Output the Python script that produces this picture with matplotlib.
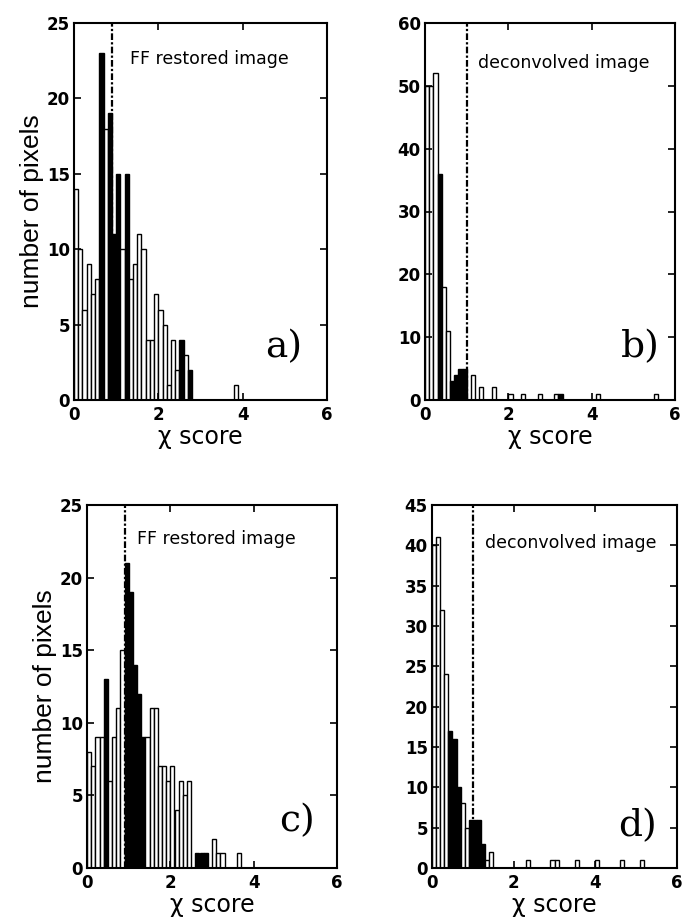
import matplotlib
matplotlib.use("Agg")
import matplotlib.pyplot as plt
import numpy as np

# counts per 0.1-wide chi-score bin, starting at 0
COUNTS_A = [14, 10, 6, 9, 7, 8, 23, 18, 19, 11,
            15, 10, 15, 8, 9, 11, 10, 4, 4, 7,
            6, 5, 1, 4, 2, 4, 3, 2, 0, 0,
            0, 0, 0, 0, 0, 0, 0, 0, 1]
COUNTS_B = [50, 50, 52, 36, 18, 11, 3, 4, 5, 5,
            0, 4, 0, 2, 0, 0, 2, 0, 0, 0,
            1, 0, 0, 1, 0, 0, 0, 1, 0, 0,
            0, 1, 1, 0, 0, 0, 0, 0, 0, 0,
            0, 1, 0, 0, 0, 0, 0, 0, 0, 0,
            0, 0, 0, 0, 0, 1]
COUNTS_C = [8, 7, 9, 9, 13, 6, 9, 11, 15, 21,
            19, 14, 12, 9, 9, 11, 11, 7, 7, 6,
            7, 4, 6, 5, 6, 0, 1, 1, 1, 0,
            2, 1, 1, 0, 0, 0, 1]
COUNTS_D = [40, 41, 32, 24, 17, 16, 10, 8, 5, 6,
            6, 6, 3, 1, 2, 0, 0, 0, 0, 0,
            0, 0, 0, 1, 0, 0, 0, 0, 0, 1,
            1, 0, 0, 0, 0, 1, 0, 0, 0, 0,
            1, 0, 0, 0, 0, 0, 1, 0, 0, 0,
            0, 1]

# bins that print as solid black in the scan
DARK_A = [6, 8, 9, 10, 12, 25, 27]
DARK_B = [3, 6, 7, 8, 9, 32]
DARK_C = [4, 9, 10, 11, 12, 13, 26, 27, 28]
DARK_D = [4, 5, 6, 9, 10, 11, 12]

CUTS = [0.9, 1.0, 0.9, 1.0]          # dash-dot reference line
TITLES = ["FF restored image", "deconvolved image",
          "FF restored image", "deconvolved image"]
TAGS = ["a)", "b)", "c)", "d)"]
YMAX = [25, 60, 25, 45]
YSTEP = [5, 10, 5, 5]
XTICKS = [0, 2, 4, 6]
BIN_W = 0.1

W, H = 683, 923
fig = plt.figure(figsize=(W / 100, H / 100), dpi=100)

# axes boxes in pixels: left, top, right, bottom
boxes = [(74, 23, 327, 400), (425, 23, 675, 400),
         (87, 505, 337, 868), (432, 505, 677, 868)]
text_pos = [(0.22, 0.905), (0.21, 0.895), (0.20, 0.905), (0.215, 0.895)]
tag_pos = [(0.83, 0.14), (0.86, 0.14), (0.84, 0.13), (0.84, 0.115)]

counts_all = [COUNTS_A, COUNTS_B, COUNTS_C, COUNTS_D]
dark_all = [DARK_A, DARK_B, DARK_C, DARK_D]

for i in range(4):
    l, t, r, b = boxes[i]
    ax = fig.add_axes([l / W, 1 - b / H, (r - l) / W, (b - t) / H])
    counts = np.array(counts_all[i])
    left = np.arange(len(counts)) * BIN_W
    keep = counts > 0
    faces = ["black" if k in dark_all[i] else "white" for k in range(len(counts))]
    ax.bar(left[keep], counts[keep], width=BIN_W, align="edge",
           color=np.array(faces)[keep], edgecolor="black", linewidth=1.0)
    ax.axvline(CUTS[i], color="black", linewidth=1.6, linestyle=(0, (3, 1, 1, 1)))

    ax.set_xlim(0, 6)
    ax.set_ylim(0, YMAX[i])
    ax.set_xticks(XTICKS)
    ax.set_yticks(np.arange(0, YMAX[i] + 1, YSTEP[i]))
    ax.tick_params(direction="in", top=True, right=True, length=5, width=1.2,
                   labelsize=12, pad=3)
    ax.tick_params(axis="x", pad=4)
    for lab in ax.get_xticklabels() + ax.get_yticklabels():
        lab.set_fontweight("bold")
    for sp in ax.spines.values():
        sp.set_linewidth(1.5)

    ax.text(text_pos[i][0], text_pos[i][1], TITLES[i], transform=ax.transAxes,
            fontsize=12.5, family="DejaVu Sans", va="center")
    ax.text(tag_pos[i][0], tag_pos[i][1], TAGS[i], transform=ax.transAxes,
            fontsize=27, family="DejaVu Serif", ha="center", va="center")
    ax.set_xlabel("\u03c7 score", fontsize=17, labelpad=1)
    if i % 2 == 0:
        ax.set_ylabel("number of pixels", fontsize=19, family="Liberation Sans",
                      labelpad=2)

fig.savefig("out.png", dpi=100)
